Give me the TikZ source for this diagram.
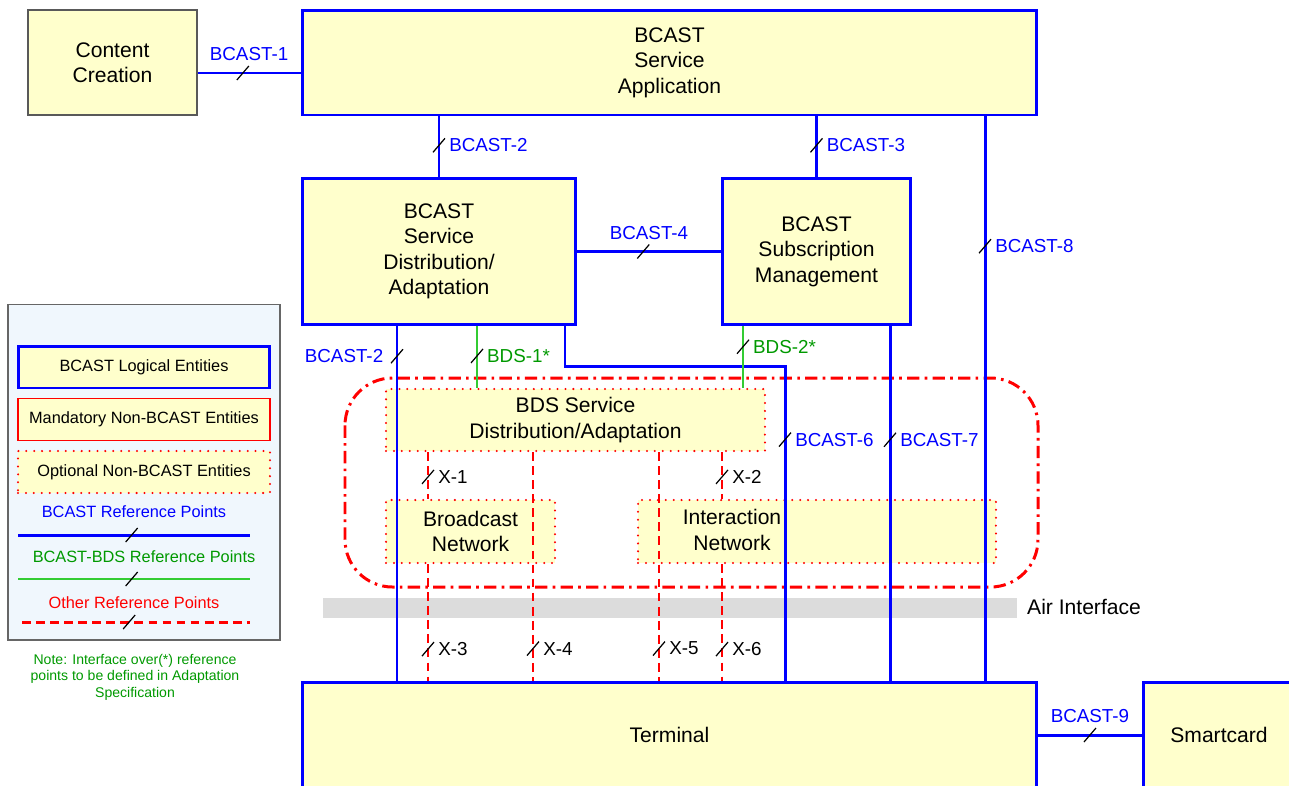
\documentclass[tikz,border=0pt]{standalone}
\usepackage{fontspec}
\setmainfont{Liberation Sans}
\usetikzlibrary{positioning}

\definecolor{boxfill}{RGB}{255,255,204}
\definecolor{refblue}{RGB}{0,0,255}
\definecolor{bdsline}{RGB}{51,204,51}
\definecolor{bdstext}{RGB}{0,153,0}
\definecolor{legendbg}{RGB}{240,247,253}
\definecolor{airgray}{RGB}{220,220,220}

\tikzset{
  slashpic/.pic={\draw[black, solid, line width=0.7pt] (-6,7) -- (6,-7);},
  bigtext/.style={font=\fontsize{12}{14.5}\selectfont, align=center},
  lbox/.style={draw=refblue, line width=1.7pt, fill=boxfill, inner sep=0pt, bigtext},
  ccbox/.style={draw=gray!70!black, line width=0.6pt, fill=boxfill, inner sep=0pt, bigtext},
  mbox/.style={draw=red, line width=0.8pt, fill=boxfill, inner sep=0pt},
  obox/.style={draw=red, line width=1.3pt, line cap=round, dash pattern=on 0pt off 4.5pt,
    fill=boxfill, inner sep=0pt, bigtext},
  legtext/.style={font=\fontsize{9.3}{11}\selectfont},
  lbl/.style={font=\fontsize{10.7}{12}\selectfont, inner sep=1pt},
  blbl/.style={lbl, text=refblue},
  glbl/.style={lbl, text=bdstext},
  klbl/.style={lbl, text=black},
  bref/.style={draw=refblue, line width=1.7pt},
  gref/.style={draw=bdsline, line width=1.6pt},
  rref/.style={draw=red, line width=1.7pt, dash pattern=on 5pt off 3pt},
  region/.style={draw=red, line width=1.7pt, dash pattern=on 7pt off 3pt on 1.5pt off 3pt,
    rounded corners=0.95cm},
}

\begin{document}
\begin{tikzpicture}[x=0.02cm, y=-0.02cm]
\useasboundingbox (0,0) rectangle (1289,785);
\clip (0,0) rectangle (1289,785);

% Legend
\node[draw=gray!80!black, line width=0.6pt, fill=legendbg, minimum width=5.44cm, minimum height=6.72cm] (leg) at (144,472) {};
\node[lbox, legtext, line width=1.7pt, minimum width=5.04cm, minimum height=0.84cm] (legbcast) at (144,367) {BCAST Logical Entities};
\node[mbox, legtext, minimum width=5.04cm, minimum height=0.84cm] (legmand) at (144,419.5) {Mandatory Non-BCAST Entities};
\node[obox, legtext, minimum width=5.04cm, minimum height=0.84cm] (legopt) at (144,472) {Optional Non-BCAST Entities};
\node[legtext, text=refblue] (legbref) at (134,512) {BCAST Reference Points};
\node[legtext, text=bdstext] (leggref) at (144,557) {BCAST-BDS Reference Points};
\node[legtext, text=red] (legrref) at (134,603) {Other Reference Points};
\coordinate (lb1) at (18,535);  \coordinate (lb2) at (250,535);
\coordinate (lg1) at (18,579);  \coordinate (lg2) at (250,579);
\coordinate (lr1) at (22,622);  \coordinate (lr2) at (250,622);
\draw[bref] (lb1) -- pic[pos=.49]{slashpic} (lb2);
\draw[gref] (lg1) -- pic[pos=.49]{slashpic} (lg2);
\draw[rref] (lr1) -- pic[pos=.47]{slashpic} (lr2);
\node[font=\fontsize{8}{9.4}\selectfont, text=bdstext, align=center] (note) at (135,677)
  {Note: Interface over(*) reference\\points to be defined in Adaptation\\Specification};

% BDS region and air interface
\draw[region] (345,378) rectangle (1038,587);
\fill[airgray] (323,598) rectangle (1017,618);
\node[bigtext, anchor=west] (air) at (1021,607) {Air Interface};

% Entities
\node[ccbox, minimum width=3.38cm, minimum height=2.1cm] (cc) at (112.5,62.5) {Content\\Creation};
\node[lbox, minimum width=14.7cm, minimum height=2.1cm] (sa) at (669.5,62.5) {BCAST\\Service\\Application};
\node[lbox, minimum width=5.48cm, minimum height=2.94cm] (sda) at (439,251.5) {BCAST\\Service\\Distribution/\\Adaptation};
\node[lbox, minimum width=3.78cm, minimum height=2.94cm] (sm) at (816.5,251.5) {BCAST\\Subscription\\Management};
\node[obox, minimum width=7.58cm, minimum height=1.24cm] (bds) at (575.5,420) {BDS Service\\Distribution/Adaptation};
\node[obox, minimum width=3.38cm, minimum height=1.26cm] (bn) at (470.5,531.5) {Broadcast\\Network};
\node[obox, minimum width=7.16cm, minimum height=1.26cm] (in) at (817,531.5) {};
\node[bigtext] (intxt) at (732,530) {Interaction\\Network};
\node[lbox, minimum width=14.7cm, minimum height=2.12cm] (term) at (669.5,735) {Terminal};
\node[lbox, minimum width=3.04cm, minimum height=2.12cm] (sc) at (1219,735) {Smartcard};

% BCAST reference points
\draw[bref] (cc.east |- 0,73) -- pic[pos=.44]{slashpic} node[pos=.5, above=5pt, blbl] {BCAST-1} (sa.west |- 0,73);
\draw[bref] (sa.south -| sda.north) -- pic[pos=.48]{slashpic} node[pos=.48, right=4pt, blbl] {BCAST-2} (sda.north);
\draw[bref] (sa.south -| sm.north) -- pic[pos=.48]{slashpic} node[pos=.48, right=4pt, blbl] {BCAST-3} (sm.north);
\draw[bref] (sda) -- pic[pos=.46]{slashpic} node[pos=.5, above=5pt, blbl] {BCAST-4} (sm);
\draw[bref] (sa.south -| 985,0) -- pic[pos=.23]{slashpic} node[pos=.23, right=4pt, blbl] {BCAST-8} (term.north -| 985,0);
\draw[bref] (sda.south -| 397,0) -- pic[pos=.084]{slashpic} node[pos=.084, left=6pt, blbl] {BCAST-2} (term.north -| 397,0);
\draw[bref] (sda.south -| 565,0) |- (785,366) -- pic[pos=.234]{slashpic} node[pos=.234, right=4pt, blbl] {BCAST-6} (term.north -| 785,0);
\draw[bref] (sm.south -| 890,0) -- pic[pos=.32]{slashpic} node[pos=.32, right=4pt, blbl] {BCAST-7} (term.north -| 890,0);
\draw[bref] (term) -- pic[pos=.5]{slashpic} node[pos=.5, above=5pt, blbl] {BCAST-9} (sc);

% BCAST-BDS reference points
\draw[gref] (sda.south -| 477,0) -- pic[pos=.48]{slashpic} node[pos=.48, right=4pt, glbl] {BDS-1*} (bds.north -| 477,0);
\draw[gref] (sm.south -| 743,0) -- pic[pos=.33]{slashpic} node[pos=.33, right=4pt, glbl] {BDS-2*} (bds.north -| 743,0);

% Other reference points
\draw[rref] (bds.south -| 428,0) -- pic[pos=.53]{slashpic} node[pos=.53, right=4pt, klbl] {X-1} (bn.north -| 428,0);
\draw[rref] (bds.south -| 722,0) -- pic[pos=.53]{slashpic} node[pos=.53, right=4pt, klbl] {X-2} (in.north -| 722,0);
\draw[rref] (bn.south -| 428,0) -- pic[pos=.73]{slashpic} node[pos=.73, right=4pt, klbl] {X-3} (term.north -| 428,0);
\draw[rref] (bds.south -| 533,0) -- pic[pos=.86]{slashpic} node[pos=.86, right=4pt, klbl] {X-4} (term.north -| 533,0);
\draw[rref] (bds.south -| 659,0) -- pic[pos=.86]{slashpic} node[pos=.86, right=4pt, klbl] {X-5} (term.north -| 659,0);
\draw[rref] (in.south -| 722,0) -- pic[pos=.73]{slashpic} node[pos=.73, right=4pt, klbl] {X-6} (term.north -| 722,0);

\end{tikzpicture}
\end{document}
